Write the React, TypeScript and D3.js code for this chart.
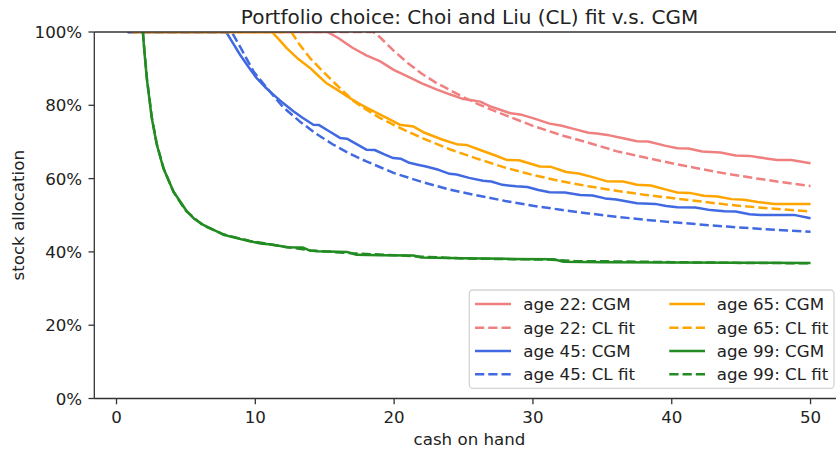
import React from "react";
import * as d3 from "d3";

type Pt = [number, number];

// cash on hand, stock allocation (%)
const age22CGM: Pt[] = [[0.8,100],[15.2,100],[16,98.3],[17,95.7],[18,93.6],[19,92],[20,89.6],[21,87.8],[22,86],[23,84.4],[24,83],[25,81.7],[25.6,81.4],[26.2,81.0],[27,79.6],[28.4,77.8],[29.2,77.4],[30,76.5],[31.2,75],[32,74.5],[33,73.5],[34,72.5],[34.6,72.3],[35.5,71.8],[36.5,71],[37.5,70.2],[38.3,70.1],[39.5,69],[40.4,68.3],[41.2,68.2],[42.2,67.4],[43.5,67.1],[44.6,66.3],[45.6,66.2],[46.8,65.5],[47.6,65.1],[48.6,65.1],[50,64.2]];
const age22CL: Pt[] = [[0.8,100],[18.5,100],[19,98.5],[20,94.8],[21,91.5],[22,88.6],[23,86.2],[24,84.2],[25,82.2],[26,80.4],[27,78.8],[28,77.3],[30,74.4],[32,71.9],[34,69.8],[36,67.5],[38,65.8],[40,64.2],[42,62.7],[44,61.3],[46,60.1],[48,59.0],[50,58.0]];
const age45CGM: Pt[] = [[0.8,100],[7.9,100],[8.3,97.5],[8.9,93.8],[9.5,90.5],[10.1,87.4],[10.7,85],[11.3,82.9],[12,80.6],[12.74,78.4],[13.4,76.6],[14.18,74.7],[14.6,74.6],[15.2,73.2],[16.1,71.1],[16.6,70.9],[17.2,69.6],[18,67.9],[18.6,67.8],[19.3,66.6],[19.94,65.6],[20.5,65.4],[21.1,64.3],[21.7,63.8],[22.3,63.3],[23.2,62.4],[24,61.3],[24.5,61.1],[25.4,60.2],[26.4,59.4],[27,59.2],[27.8,58.3],[28.8,57.9],[29.6,57.7],[30.4,56.9],[31.2,56.3],[32.3,56.2],[33.4,55.5],[34.3,55.4],[35.2,54.6],[36,54.3],[37.5,53.3],[38.8,53.1],[39.6,52.5],[40.4,52.2],[41.7,52.1],[42.8,51.4],[43.8,51.1],[44.6,51.0],[45.6,50.3],[46.4,50.1],[48.8,50.1],[50,49.2]];
const age45CL: Pt[] = [[0.8,100],[8.3,100],[9,95.3],[9.86,89.3],[10.5,86.3],[11.3,82.6],[12,79.5],[13.2,75.6],[14.4,72.2],[15.6,69.3],[16.8,66.8],[18,64.7],[19,63.1],[20,61.5],[21,60.3],[22,59.1],[24,57.0],[26,55.4],[28,53.9],[30,52.6],[32,51.5],[34,50.5],[36,49.6],[38,48.8],[40,48.1],[42,47.5],[44,46.9],[46,46.4],[48,45.9],[50,45.5]];
const age65CGM: Pt[] = [[1.1,100],[11.2,100],[11.7,98],[12.26,95.6],[13.1,92.6],[13.94,90.2],[14.5,88.2],[15.1,86.1],[16,84],[16.8,82],[17.6,80.2],[18.5,78.4],[19.5,76.5],[20.4,74.7],[21.4,74.2],[22.2,72.5],[23.5,70.6],[24.5,69.4],[25.2,69.2],[26.2,67.8],[27.3,66.3],[28.1,65.1],[29,65],[30.5,63.3],[31.3,63.2],[32.4,61.8],[33.3,61.4],[34.3,60.4],[35.3,59.3],[36.5,59.2],[37.5,58.3],[38.5,58.1],[39.6,57],[40.4,56.2],[41.3,56.1],[42.3,55.3],[43.3,55.1],[44.3,54.4],[45.2,54.2],[46.2,53.6],[47.4,53.1],[50,53.1]];
const age65CL: Pt[] = [[1.1,100],[12.6,100],[13.2,96.5],[13.94,92.9],[14.8,89.5],[15.6,86.5],[16.4,83.6],[17.1,81.1],[18,78.8],[19,76.5],[20,74.6],[21,72.8],[22,71.1],[24,68.0],[26,65.4],[28,63.0],[30,61.0],[32,59.3],[34,57.9],[36,56.7],[38,55.6],[40,54.7],[42,53.8],[44,52.9],[46,52.2],[48,51.6],[50,51.0]];
const age99CGM: Pt[] = [[1.9,100],[2.0,95],[2.18,87.4],[2.54,76.5],[2.9,69.3],[3.37,62.9],[4.1,56.5],[5.06,51.1],[5.6,49],[6.25,47.4],[7,46],[7.7,44.7],[8.5,43.9],[9.6,42.9],[10.5,42.2],[11,42.1],[11.8,41.6],[12.2,41.3],[13.4,41.2],[13.9,40.4],[14.5,40.2],[16.6,40.0],[17.3,39.2],[19,39.1],[21.4,39.0],[21.9,38.5],[25,38.3],[28,38.1],[31.5,38.0],[32.2,37.3],[35,37.2],[40,37.1],[45,37.05],[50,37.0]];
const age99CL: Pt[] = [[1.9,100],[2.0,95.5],[2.2,87],[2.55,76.6],[2.9,69.5],[3.4,62.7],[4.1,56.4],[5,51.2],[6.2,47.3],[7.7,44.8],[9.6,43],[12,41.5],[14,40.4],[17,39.6],[20,39.1],[22,38.7],[25,38.2],[31,37.9],[33,37.5],[36,37.4],[40,37.2],[45,37.0],[50,36.9]];

const xTicks = [0, 10, 20, 30, 40, 50];
const yTicks = [0, 20, 40, 60, 80, 100];

const COLORS = { a22: "#F08080", a45: "#4169E1", a65: "#FFA500", a99: "#228B22" };

const seriesList = [
  { label: "age 22: CGM", data: age22CGM, color: COLORS.a22, dashed: false },
  { label: "age 22: CL fit", data: age22CL, color: COLORS.a22, dashed: true },
  { label: "age 45: CGM", data: age45CGM, color: COLORS.a45, dashed: false },
  { label: "age 45: CL fit", data: age45CL, color: COLORS.a45, dashed: true },
  { label: "age 65: CGM", data: age65CGM, color: COLORS.a65, dashed: false },
  { label: "age 65: CL fit", data: age65CL, color: COLORS.a65, dashed: true },
  { label: "age 99: CGM", data: age99CGM, color: COLORS.a99, dashed: false },
  { label: "age 99: CL fit", data: age99CL, color: COLORS.a99, dashed: true },
];

const W = 836, H = 449;
const L = 94.3, R = 844.7, T = 32, B = 398.5;
const FONT = "DejaVu Sans, sans-serif";
const TXT = "#222";
const DASH = "9.25,4";

export default function App() {
  const x = d3.scaleLinear().domain([-1.6, 52.46]).range([L, R]);
  const y = d3.scaleLinear().domain([0, 100]).range([B, T]);
  const line = d3.line<Pt>().x((d) => x(d[0])).y((d) => y(d[1]));

  const legX = [469.3, 834];
  const legY = [290, 388.3];
  const rows = [304, 327.7, 351, 374.3];
  const cols = [
    { h0: 475, h1: 511, tx: 523.3 },
    { h0: 669.3, h1: 705, tx: 716.7 },
  ];

  return (
    <svg width={W} height={H} style={{ position: "absolute", left: 0, top: 0, background: "#fff" }}>
      <defs>
        <clipPath id="plot">
          <rect x={L} y={T} width={R - L} height={B - T} />
        </clipPath>
      </defs>
      <rect x={0} y={0} width={W} height={H} fill="#fff" />
      <text x={(L + R) / 2} y={23.5} textAnchor="middle" fontFamily={FONT} fontSize={20} fill={TXT}>
        Portfolio choice: Choi and Liu (CL) fit v.s. CGM
      </text>
      <g clipPath="url(#plot)">
        {seriesList.map((s) => (
          <path key={s.label} d={line(s.data) || ""} fill="none" stroke={s.color} strokeWidth={2.5}
            strokeDasharray={s.dashed ? DASH : undefined} strokeLinejoin="round" />
        ))}
      </g>
      {/* spines */}
      <line x1={L} x2={L} y1={T} y2={B} stroke="#333" strokeWidth={1.3} />
      <line x1={L} x2={R} y1={B} y2={B} stroke="#333" strokeWidth={1.3} />
      <line x1={L} x2={R} y1={T} y2={T} stroke="#333" strokeWidth={1.3} />
      <line x1={R} x2={R} y1={T} y2={B} stroke="#333" strokeWidth={1.3} />
      {/* x ticks */}
      {xTicks.map((t) => (
        <g key={"x" + t}>
          <line x1={x(t)} x2={x(t)} y1={B} y2={B + 5.8} stroke="#333" strokeWidth={1.3} />
          <text x={x(t)} y={422.7} textAnchor="middle" fontFamily={FONT} fontSize={16.67} fill={TXT}>{t}</text>
        </g>
      ))}
      {yTicks.map((t) => (
        <g key={"y" + t}>
          <line x1={L - 5.8} x2={L} y1={y(t)} y2={y(t)} stroke="#333" strokeWidth={1.3} />
          <text x={82.2} y={y(t)} dy="0.36em" textAnchor="end" fontFamily={FONT} fontSize={16.67} fill={TXT}>{t}%</text>
        </g>
      ))}
      <text x={(L + R) / 2} y={445} textAnchor="middle" fontFamily={FONT} fontSize={16.67} fill={TXT}>cash on hand</text>
      <text transform={`translate(24,${(T + B) / 2}) rotate(-90)`} textAnchor="middle" fontFamily={FONT} fontSize={16.67} fill={TXT}>stock allocation</text>
      {/* legend */}
      <rect x={legX[0]} y={legY[0]} width={legX[1] - legX[0]} height={legY[1] - legY[0]} rx={3.5}
        fill="#fff" fillOpacity={0.8} stroke="#d4d4d4" strokeWidth={1.3} />
      {seriesList.map((s, i) => {
        const c = cols[Math.floor(i / 4)];
        const ry = rows[i % 4];
        return (
          <g key={"leg" + s.label}>
            <line x1={c.h0} x2={c.h1} y1={ry} y2={ry} stroke={s.color} strokeWidth={2.5}
              strokeDasharray={s.dashed ? DASH : undefined} />
            <text x={c.tx} y={ry} dy="0.36em" fontFamily={FONT} fontSize={16.67} fill={TXT}>{s.label}</text>
          </g>
        );
      })}
    </svg>
  );
}
